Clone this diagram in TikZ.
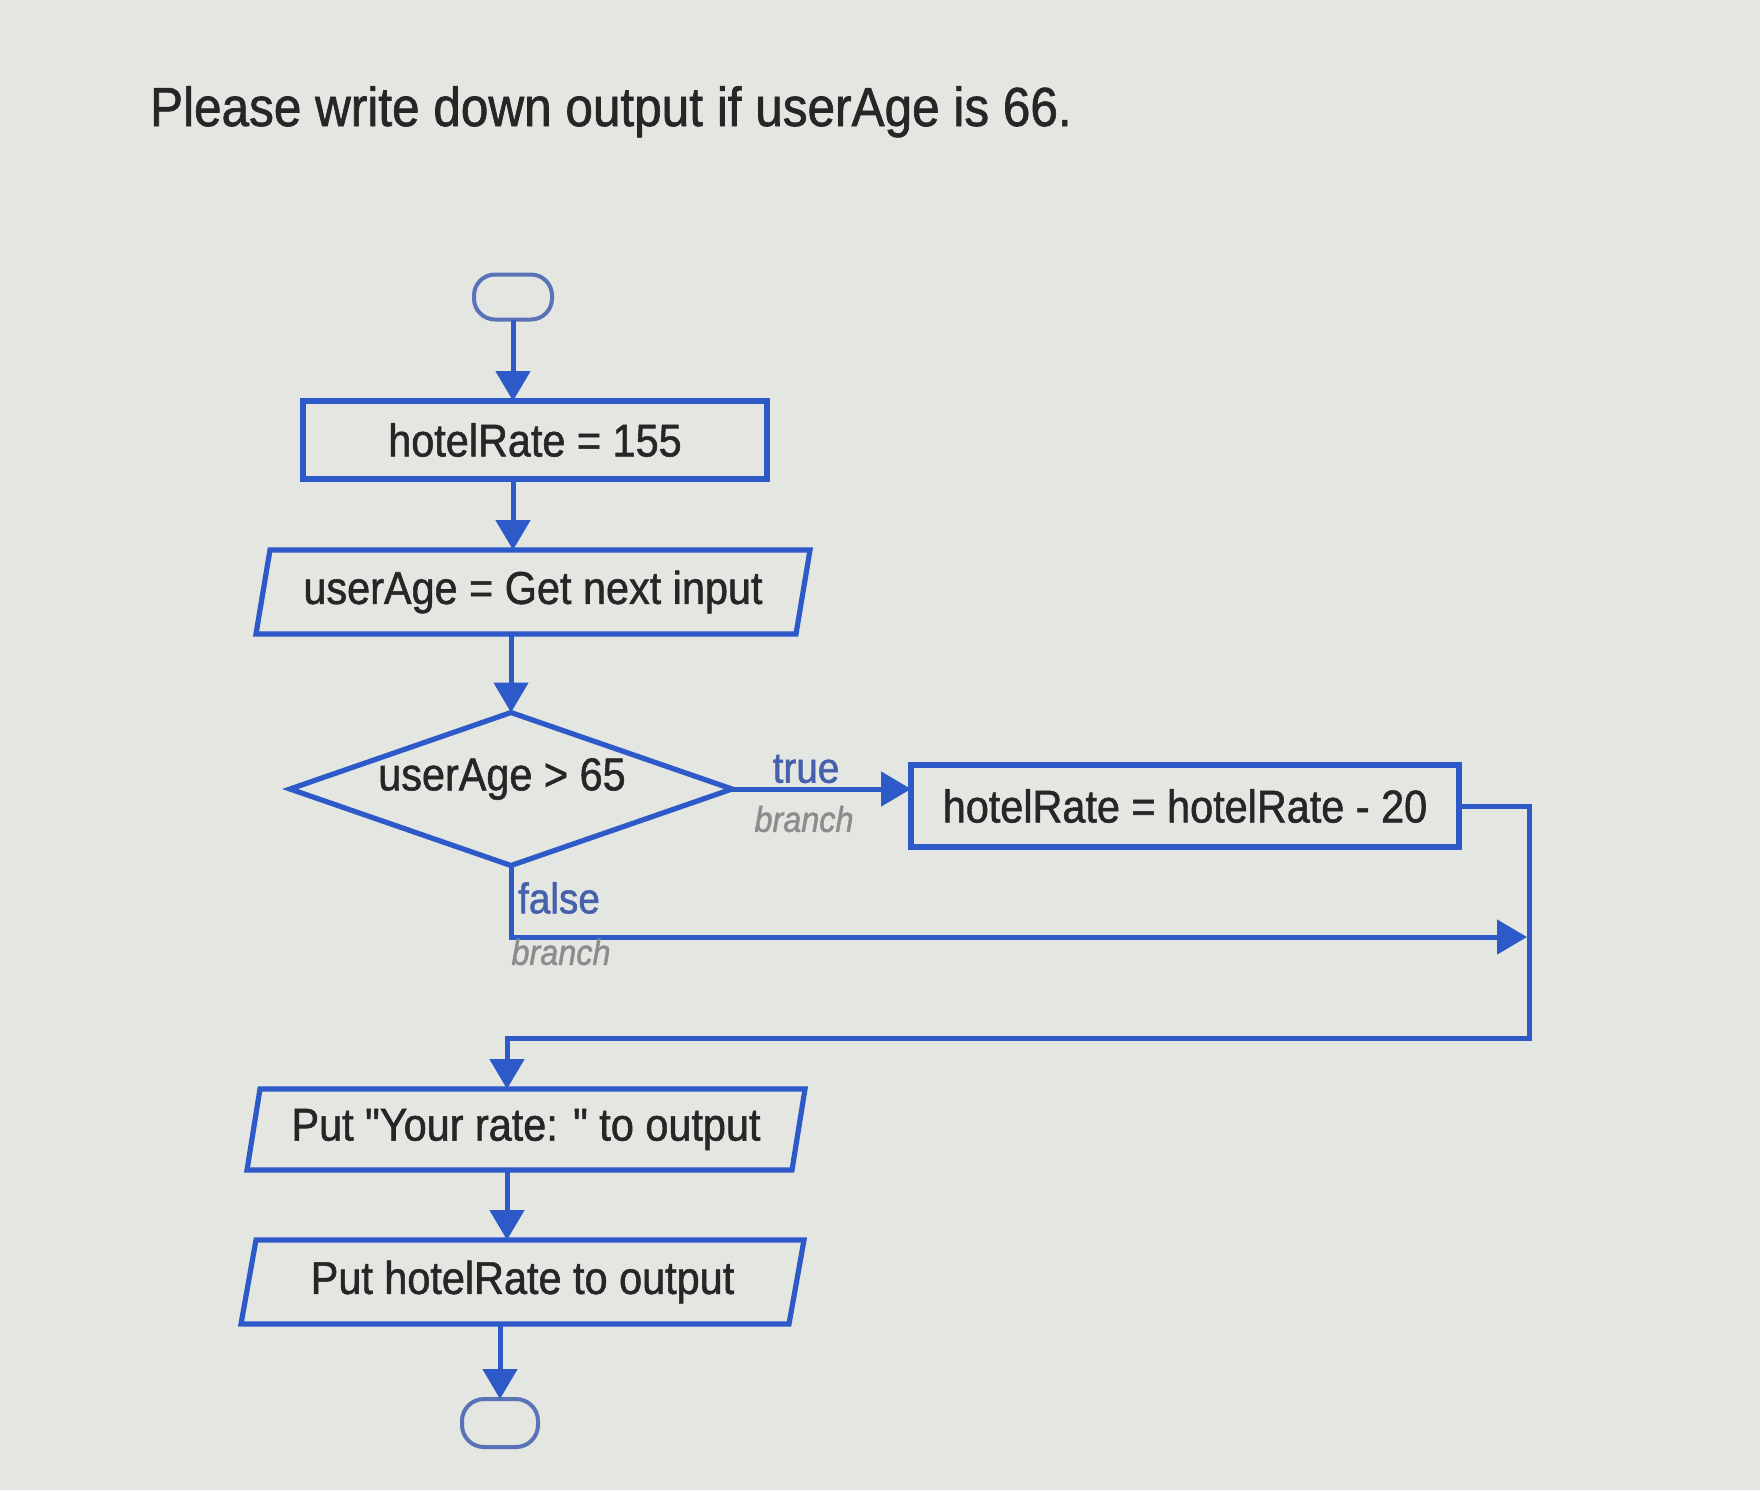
\documentclass[tikz,border=0pt]{standalone}
\usepackage{fontspec}
\setmainfont{Liberation Sans}[FakeStretch=0.9,FakeBold=1.2,Ligatures=TeXOff]
\usetikzlibrary{arrows.meta,shapes.geometric,calc}
\definecolor{bl}{HTML}{2D5AC8}
\definecolor{tb}{HTML}{5A72B8}
\definecolor{txt}{HTML}{262626}
\definecolor{lblue}{HTML}{4660AC}
\definecolor{lgray}{HTML}{8C8C8C}
\definecolor{bg}{HTML}{E4E6E2}
\begin{document}
\begin{tikzpicture}[x=0.5pt,y=-0.5pt,
  boxtext/.style={font=\fontsize{23}{27}\selectfont, text=txt},
  procbox/.style={boxtext, draw=bl, line width=2.6pt, inner sep=0pt, outer sep=0pt},
  iobox/.style={boxtext, inner sep=0pt, outer sep=0pt},
  border/.style={draw=bl, line width=2.6pt, line join=miter},
  term/.style={draw=tb, line width=2pt, rounded corners=10.5pt, minimum width=39pt, minimum height=22.5pt, inner sep=0pt, outer sep=0pt},
  dec/.style={diamond, draw=bl, line width=2.6pt, minimum width=221pt, minimum height=76.5pt, inner sep=0pt, outer sep=0pt},
  arr/.style={draw=bl, line width=2.5pt, line join=miter, -{Triangle[width=17pt,length=15pt]}},
  tflab/.style={font=\fontsize{21.5}{24}\selectfont, text=lblue},
  brlab/.style={font=\itshape\fontsize{18}{20}\selectfont, text=lgray}]
\useasboundingbox[fill=bg] (0,0) rectangle (1760,1490);

\node[anchor=base west, font=\fontsize{27.5}{32}\selectfont, text=txt] (title) at (143,126) {Please write down output if userAge is 66.};

\node[term] (start) at (513,297) {};
\node[procbox, minimum width=232pt, minimum height=39pt] (b1) at (535,440) {hotelRate = 155};

\node[iobox, minimum width=270pt, minimum height=42pt] (b2) at (533,592) {userAge = Get next input};
\draw[border] ($(b2.north west)+(7,0)$) -- ($(b2.north east)+(7,0)$) -- ($(b2.south east)+(-7,0)$) -- ($(b2.south west)+(-7,0)$) -- cycle;

\node[dec] (d) at (511,789) {};
\node[boxtext] (dt) at (502,779) {userAge > 65};

\node[procbox, minimum width=274pt, minimum height=41pt] (b3) at (1185,806) {hotelRate = hotelRate - 20};

\node[iobox, minimum width=272.5pt, minimum height=40.5pt] (b4) at (526,1129.5) {Put "Your rate: " to output};
\draw[border] ($(b4.north west)+(6.5,0)$) -- ($(b4.north east)+(6.5,0)$) -- ($(b4.south east)+(-6.5,0)$) -- ($(b4.south west)+(-6.5,0)$) -- cycle;

\node[iobox, minimum width=274pt, minimum height=42pt] (b5) at (522.5,1282) {Put hotelRate to output};
\draw[border] ($(b5.north west)+(7.5,0)$) -- ($(b5.north east)+(7.5,0)$) -- ($(b5.south east)+(-7.5,0)$) -- ($(b5.south west)+(-7.5,0)$) -- cycle;

\node[term, minimum width=38pt, minimum height=24pt, rounded corners=11pt] (end) at (500,1423) {};

\coordinate (rx) at (1529,1038);
\coordinate (join) at (507,1038);
\coordinate (fr) at (1527,937);

\draw[arr] (start.south) -- (start.south |- b1.north);
\draw[arr] (start.south |- b1.south) -- (start.south |- b2.north);
\draw[arr] (d.north |- b2.south) -- (d.north);
\draw[arr] (d.east) -- (d.east -| b3.west);
\draw[arr] (b3.east) -| (rx) -- (join) -- (join |- b4.north);
\draw[arr] (d.south) |- (fr);
\draw[arr] (join |- b4.south) -- (join |- b5.north);
\draw[arr] (end.north |- b5.south) -- (end.north);

\node[tflab] (tl) at (806,769) {true};
\node[brlab] (tb) at (804,819) {branch};
\node[tflab] (fl) at (559,898) {false};
\node[brlab] (fb) at (561,952) {branch};
\end{tikzpicture}
\end{document}
